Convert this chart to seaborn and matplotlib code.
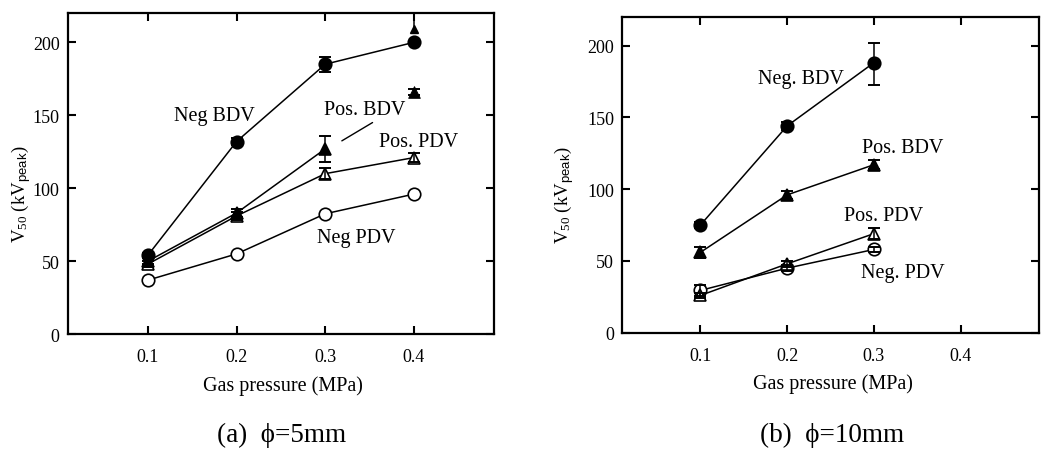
import matplotlib
matplotlib.use("Agg")
import matplotlib.pyplot as plt
import seaborn as sns
import pandas as pd

# ---- data ----
pressure_a = [0.1, 0.2, 0.3, 0.4]
neg_bdv_a = [54, 132, 185, 200]
neg_bdv_a_err = [1.5, 2.5, 5, 1]
pos_bdv_a = [50, 83, 127]
pos_bdv_a_err = [2, 3, 9]
pos_bdv_a_extra = [166]          # unconnected point at 0.4
pos_bdv_a_extra_err = [2]
pos_bdv_a_lower = [209]          # ">" point at 0.4 (arrow up)
pos_pdv_a = [48, 81, 110, 121]
pos_pdv_a_err = [2, 3, 4, 3]
neg_pdv_a = [37, 55, 82.5, 96]

pressure_b = [0.1, 0.2, 0.3]
neg_bdv_b = [75, 144, 188]
neg_bdv_b_err_lo = [2, 3, 15.5]
neg_bdv_b_err_hi = [2, 3, 14]
pos_bdv_b = [56, 96, 117]
pos_bdv_b_err = [4, 3, 3]
pos_pdv_b = [26, 48, 69]
pos_pdv_b_err = [2, 2, 4]
neg_pdv_b = [29.5, 45, 58]
neg_pdv_b_err = [4, 2, 2]

xticks = [0.1, 0.2, 0.3, 0.4]
yticks = [0, 50, 100, 150, 200]

sns.set_style("ticks")
plt.rcParams['font.family'] = ['Liberation Serif', 'DejaVu Serif']
plt.rcParams['mathtext.fontset'] = 'custom'
plt.rcParams['mathtext.rm'] = 'Liberation Serif'
plt.rcParams['mathtext.it'] = 'Liberation Serif:italic'
plt.rcParams['mathtext.sf'] = 'Liberation Sans'
for key in ['text.color', 'axes.labelcolor', 'xtick.color', 'ytick.color',
            'axes.edgecolor']:
    plt.rcParams[key] = 'black'

fig = plt.figure(figsize=(10.62, 4.56), dpi=100)
ax_a = fig.add_axes([0.064, 0.265, 0.401, 0.704])
ax_b = fig.add_axes([0.586, 0.268, 0.392, 0.693])

line_kw = dict(color='black', linewidth=1.1, markersize=9, markeredgewidth=1.2,
               markeredgecolor='black')
err_kw = dict(fmt='none', ecolor='black', elinewidth=1.1, capsize=4, capthick=1.4)


def series(ax, x, y, marker, filled):
    df = pd.DataFrame({'p': x, 'v': y})
    sns.lineplot(data=df, x='p', y='v', ax=ax, marker=marker,
                 markerfacecolor='black' if filled else 'white', **line_kw)


# (a) phi = 5 mm
ax = ax_a
series(ax, pressure_a, neg_pdv_a, 'o', False)
series(ax, pressure_a, pos_pdv_a, '^', False)
series(ax, pressure_a[:3], pos_bdv_a, '^', True)
series(ax, pressure_a, neg_bdv_a, 'o', True)
ax.errorbar(pressure_a, neg_bdv_a, yerr=neg_bdv_a_err, **err_kw)
ax.errorbar(pressure_a[:3], pos_bdv_a, yerr=pos_bdv_a_err, **err_kw)
ax.errorbar(pressure_a, pos_pdv_a, yerr=pos_pdv_a_err, **err_kw)
ax.errorbar(pressure_a[3:], pos_bdv_a_extra, yerr=pos_bdv_a_extra_err, **err_kw)
sns.scatterplot(x=pressure_a[3:], y=pos_bdv_a_extra, ax=ax, marker='^', s=70,
                color='black', edgecolor='black', zorder=5)
ax.errorbar(pressure_a[3:], pos_bdv_a_lower, yerr=[[0], [10]], fmt='^', color='black',
            markersize=6, elinewidth=1.1, capsize=0)
ax.text(0.175, 150, 'Neg BDV', ha='center', va='center', fontsize=14.5)
ax.text(0.345, 154, 'Pos. BDV', ha='center', va='center', fontsize=14.5)
ax.annotate('', xy=(0.316, 131.5), xytext=(0.356, 146),
            arrowprops=dict(arrowstyle='-', color='black', lw=1))
ax.text(0.405, 132, 'Pos. PDV', ha='center', va='center', fontsize=14.5)
ax.text(0.335, 66, 'Neg PDV', ha='center', va='center', fontsize=14.5)

# (b) phi = 10 mm
ax = ax_b
series(ax, pressure_b, neg_pdv_b, 'o', False)
series(ax, pressure_b, pos_pdv_b, '^', False)
series(ax, pressure_b, pos_bdv_b, '^', True)
series(ax, pressure_b, neg_bdv_b, 'o', True)
ax.errorbar(pressure_b, neg_bdv_b, yerr=[neg_bdv_b_err_lo, neg_bdv_b_err_hi], **err_kw)
ax.errorbar(pressure_b, pos_bdv_b, yerr=pos_bdv_b_err, **err_kw)
ax.errorbar(pressure_b, pos_pdv_b, yerr=pos_pdv_b_err, **err_kw)
ax.errorbar(pressure_b, neg_pdv_b, yerr=neg_pdv_b_err, **err_kw)
ax.text(0.216, 177, 'Neg. BDV', ha='center', va='center', fontsize=14.5)
ax.text(0.333, 129, 'Pos. BDV', ha='center', va='center', fontsize=14.5)
ax.text(0.311, 82, 'Pos. PDV', ha='center', va='center', fontsize=14.5)
ax.text(0.333, 42, 'Neg. PDV', ha='center', va='center', fontsize=14.5)

for ax, ylab_x in [(ax_a, -0.11), (ax_b, -0.14)]:
    ax.set_xlim(0.01, 0.49)
    ax.set_ylim(0, 220)
    ax.set_xticks(xticks)
    ax.set_yticks(yticks)
    ax.set_xticklabels([str(t) for t in xticks])
    ax.tick_params(direction='in', top=True, right=True, length=6, width=1.5,
                   labelsize=13)
    ax.tick_params(axis='x', pad=10)
    ax.tick_params(axis='y', pad=6)
    for s in ax.spines.values():
        s.set_linewidth(1.6)
        s.set_visible(True)
    ax.set_xlabel('Gas pressure (MPa)', fontsize=14.5)
    ax.xaxis.set_label_coords(0.505, -0.16)
    ax.xaxis.label.set_va('center')
    ax.set_ylabel(r'V$_{\mathrm{50}}$ (kV$_{\mathsf{peak}}$)', fontsize=13.5)
    ax.yaxis.set_label_coords(ylab_x, 0.44)
    ax.yaxis.label.set_va('center')

fig.text(282 / 1062, 1 - 435 / 456, '(a)  \u03d5=5mm', ha='center', va='center',
         fontsize=19.5)
fig.text(832 / 1062, 1 - 435 / 456, '(b)  \u03d5=10mm', ha='center', va='center',
         fontsize=19.5)

fig.savefig('out.png', dpi=100)
